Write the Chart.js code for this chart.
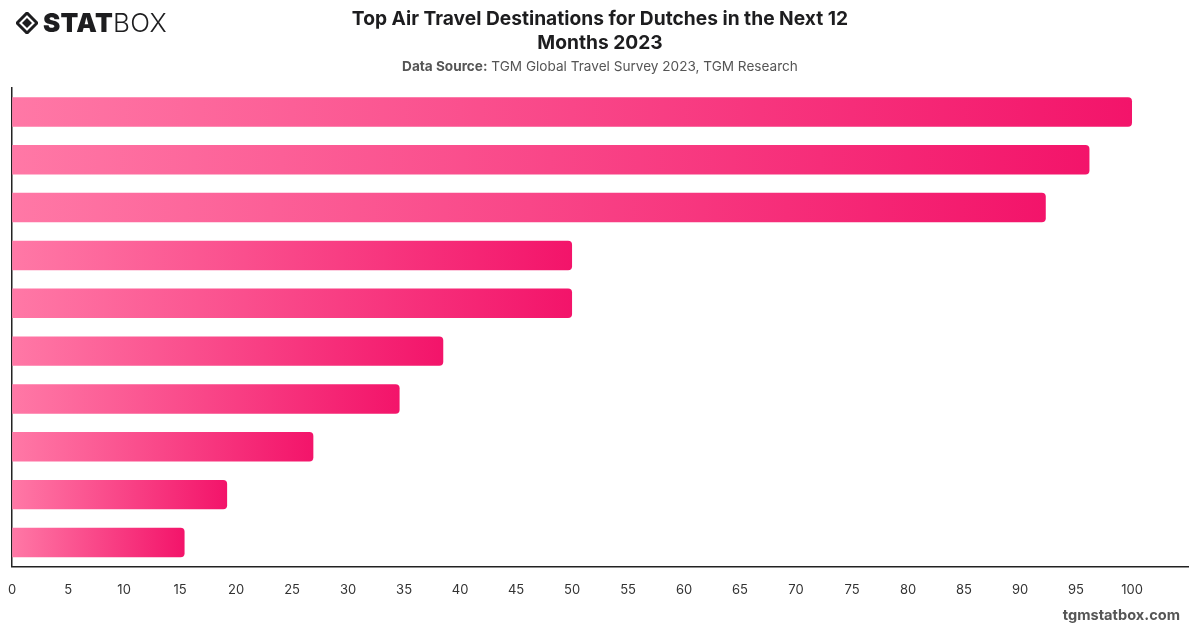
<!DOCTYPE html>
<html>
<head>
<meta charset="utf-8">
<script src="https://cdn.jsdelivr.net/npm/chart.js@4/dist/chart.umd.min.js"></script>
<style>
  html, body { margin: 0; padding: 0; background: #fff; }
  body { width: 1200px; height: 628px; position: relative; overflow: hidden; font-family: Inter, "Liberation Sans", sans-serif; }
  #logo { position: absolute; left: 16px; top: 7px; font-size: 26px; color: #1d1d1f; letter-spacing: 0.3px; display: flex; align-items: center; }
  #logo .icon { width: 22px; height: 22px; margin-right: 5px; position: relative; }
  #logo .stat { font-weight: 900; }
  #logo .box { font-weight: 300; }
  #title { position: absolute; left: 0; width: 1200px; top: 6px; text-align: center; font-size: 19.2px; font-weight: 700; color: #1d1d1f; line-height: 24px; }
  #subtitle { position: absolute; left: 0; width: 1200px; top: 58px; text-align: center; font-size: 13.6px; color: #555; }
  #subtitle b { font-weight: 700; }
  #footer { position: absolute; right: 20px; top: 606px; font-size: 14.6px; font-weight: 700; color: #555; }
  #wrap { position: absolute; left: -8px; top: 0; width: 1200px; height: 628px; }
</style>
</head>
<body>
<div id="wrap"><canvas id="myChart"></canvas></div>
<div id="logo">
  <svg class="icon" viewBox="0 0 22 22"><path d="M11 1 L21 11 L11 21 L1 11 Z" fill="none" stroke="#1d1d1f" stroke-width="3"/><path d="M11 6 L16 11 L11 16 L6 11 Z" fill="#1d1d1f"/></svg>
  <span class="stat">STAT</span><span class="box">BOX</span>
</div>
<div id="title">Top Air Travel Destinations for Dutches in the Next 12<br>Months 2023</div>
<div id="subtitle"><b>Data Source:</b> TGM Global Travel Survey 2023, TGM Research</div>
<div id="footer">tgmstatbox.com</div>
<script>
var destinations = ["Destination 1", "Destination 2", "Destination 3", "Destination 4", "Destination 5",
	"Destination 6", "Destination 7", "Destination 8", "Destination 9", "Destination 10"];
var shares = [100, 96.2, 92.3, 50, 50, 38.5, 34.6, 26.9, 19.2, 15.4];
var xTicks = [0, 5, 10, 15, 20, 25, 30, 35, 40, 45, 50, 55, 60, 65, 70, 75, 80, 85, 90, 95, 100];

function barGradient(context) {
	var chart = context.chart;
	var area = chart.chartArea;
	if (!area || context.dataIndex === undefined) return "#f5176c";
	var x = chart.scales.x;
	var x0 = x.getPixelForValue(0);
	var x1 = x.getPixelForValue(shares[context.dataIndex]);
	var g = chart.ctx.createLinearGradient(x0, 0, x1, 0);
	g.addColorStop(0, "#ff78a6");
	g.addColorStop(1, "#f3146a");
	return g;
}

const config = {
	type: "bar",
	data: {
		labels: destinations,
		datasets: [
			{
				label: "Share",
				data: shares,
				backgroundColor: barGradient,
				borderRadius: 4,
				borderSkipped: "start",
				categoryPercentage: 0.8,
				barPercentage: 0.77,
			},
		],
	},
	options: {
		indexAxis: "y",
		responsive: false,
		animation: false,
		layout: { padding: { top: 88, left: 2, right: 4, bottom: 14 } },
		plugins: {
			legend: { display: false },
			tooltip: { enabled: false },
		},
		scales: {
			x: {
				min: 0,
				max: 105,
				afterBuildTicks: function (axis) {
					axis.ticks = xTicks.map(function (v) { return { value: v }; });
				},
				grid: { display: false, drawTicks: false },
				border: { display: true, color: "#222", width: 1.5 },
				ticks: { padding: 16, color: "#333", font: { family: "Inter", size: 13 } },
			},
			y: {
				grid: { display: false, drawTicks: false },
				border: { display: true, color: "#222", width: 1.5 },
				ticks: { display: false },
			},
		},
	},
};

var canvas = document.getElementById("myChart");
canvas.width = 1200;
canvas.height = 628;
const myChart = new Chart(canvas, config);
</script>
</body>
</html>
